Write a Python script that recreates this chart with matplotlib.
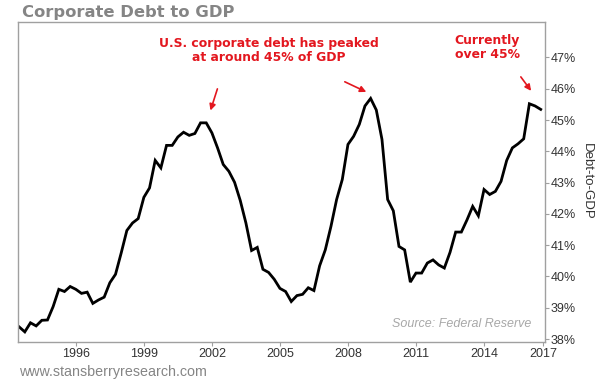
import numpy as np
import matplotlib
matplotlib.use("Agg")
import matplotlib.pyplot as plt

# quarterly debt-to-GDP (%), 1993 Q3 .. 2016 Q3
start_year = 1993.5
debt_to_gdp = [
    38.39, 38.23, 38.52, 38.42, 38.60, 38.61, 39.04, 39.59, 39.52, 39.68,
    39.59, 39.46, 39.50, 39.14, 39.25, 39.34, 39.80, 40.07, 40.75, 41.47,
    41.71, 41.85, 42.53, 42.83, 43.71, 43.47, 44.19, 44.19, 44.46, 44.61,
    44.51, 44.57, 44.91, 44.91, 44.59, 44.11, 43.58, 43.36, 43.01, 42.43,
    41.71, 40.83, 40.93, 40.23, 40.13, 39.91, 39.62, 39.52, 39.20, 39.39,
    39.43, 39.64, 39.55, 40.34, 40.85, 41.60, 42.46, 43.10, 44.22, 44.48,
    44.86, 45.45, 45.69, 45.32, 44.38, 42.46, 42.10, 40.96, 40.85, 39.82,
    40.11, 40.11, 40.43, 40.53, 40.37, 40.27, 40.77, 41.42, 41.42, 41.81,
    42.24, 41.94, 42.78, 42.62, 42.72, 43.04, 43.71, 44.11, 44.24, 44.40,
    45.52, 45.45, 45.34,
]
years = start_year + 0.25 * np.arange(len(debt_to_gdp))

x_ticks = [1996, 1999, 2002, 2005, 2008, 2011, 2014, 2016.6]
x_labels = ["1996", "1999", "2002", "2005", "2008", "2011", "2014", "2017"]
y_ticks = list(range(38, 48))
y_labels = [f"{v}%" for v in y_ticks]

red = "#e3171f"
spine_gray = "#a0a0a0"

fig = plt.figure(figsize=(6, 3.82), dpi=100)
ax = fig.add_axes([0.03, 0.105, 0.878, 0.838])

ax.plot(years, debt_to_gdp, color="black", lw=2.0, solid_joinstyle="miter")

ax.set_xlim(1993.45, 2016.68)
ax.set_ylim(37.91, 48.14)

ax.yaxis.tick_right()
ax.yaxis.set_label_position("right")
ax.set_yticks(y_ticks)
ax.set_yticklabels(y_labels)
ax.set_xticks(x_ticks)
ax.set_xticklabels(x_labels)
ax.tick_params(axis="both", direction="out", length=3, width=0.8,
               color=spine_gray, labelsize=9, labelcolor="#333333", pad=1.5)
for lab in ax.get_xticklabels() + ax.get_yticklabels():
    lab.set_family("Liberation Sans")

for sp in ax.spines.values():
    sp.set_color(spine_gray)
    sp.set_linewidth(1.0)

ax.set_ylabel("Debt-to-GDP", rotation=-90, labelpad=12, fontsize=9.5,
              color="#333333", family="Liberation Sans")

fig.text(0.037, 0.968, "Corporate Debt to GDP", fontsize=11.8, fontweight="bold",
         color="#858585", va="center", ha="left")
fig.text(0.031, 0.026, "www.stansberryresearch.com", fontsize=10.3,
         color="#858585", va="center", ha="left", family="Liberation Sans")

ax.text(0.975, 0.055, "Source: Federal Reserve", transform=ax.transAxes,
        fontsize=9, style="italic", color="#a8a8a8", ha="right", va="center",
        family="Liberation Sans")

ax.text(2004.5, 47.22, "U.S. corporate debt has peaked\nat around 45% of GDP",
        ha="center", va="center", fontsize=8.9, fontweight="bold", color=red,
        linespacing=1.12)
ax.text(2014.15, 47.32, "Currently\nover 45%", ha="center", va="center",
        fontsize=8.9, fontweight="bold", color=red, linespacing=1.12)

arrow = dict(arrowstyle="-|>", color=red, lw=1.2, mutation_scale=9)
ax.annotate("", xy=(2001.9, 45.22), xytext=(2002.28, 46.08), arrowprops=arrow)
ax.annotate("", xy=(2008.92, 45.86), xytext=(2007.75, 46.26), arrowprops=arrow)
ax.annotate("", xy=(2016.15, 45.86), xytext=(2015.55, 46.45), arrowprops=arrow)

fig.savefig("out.png", dpi=100)
